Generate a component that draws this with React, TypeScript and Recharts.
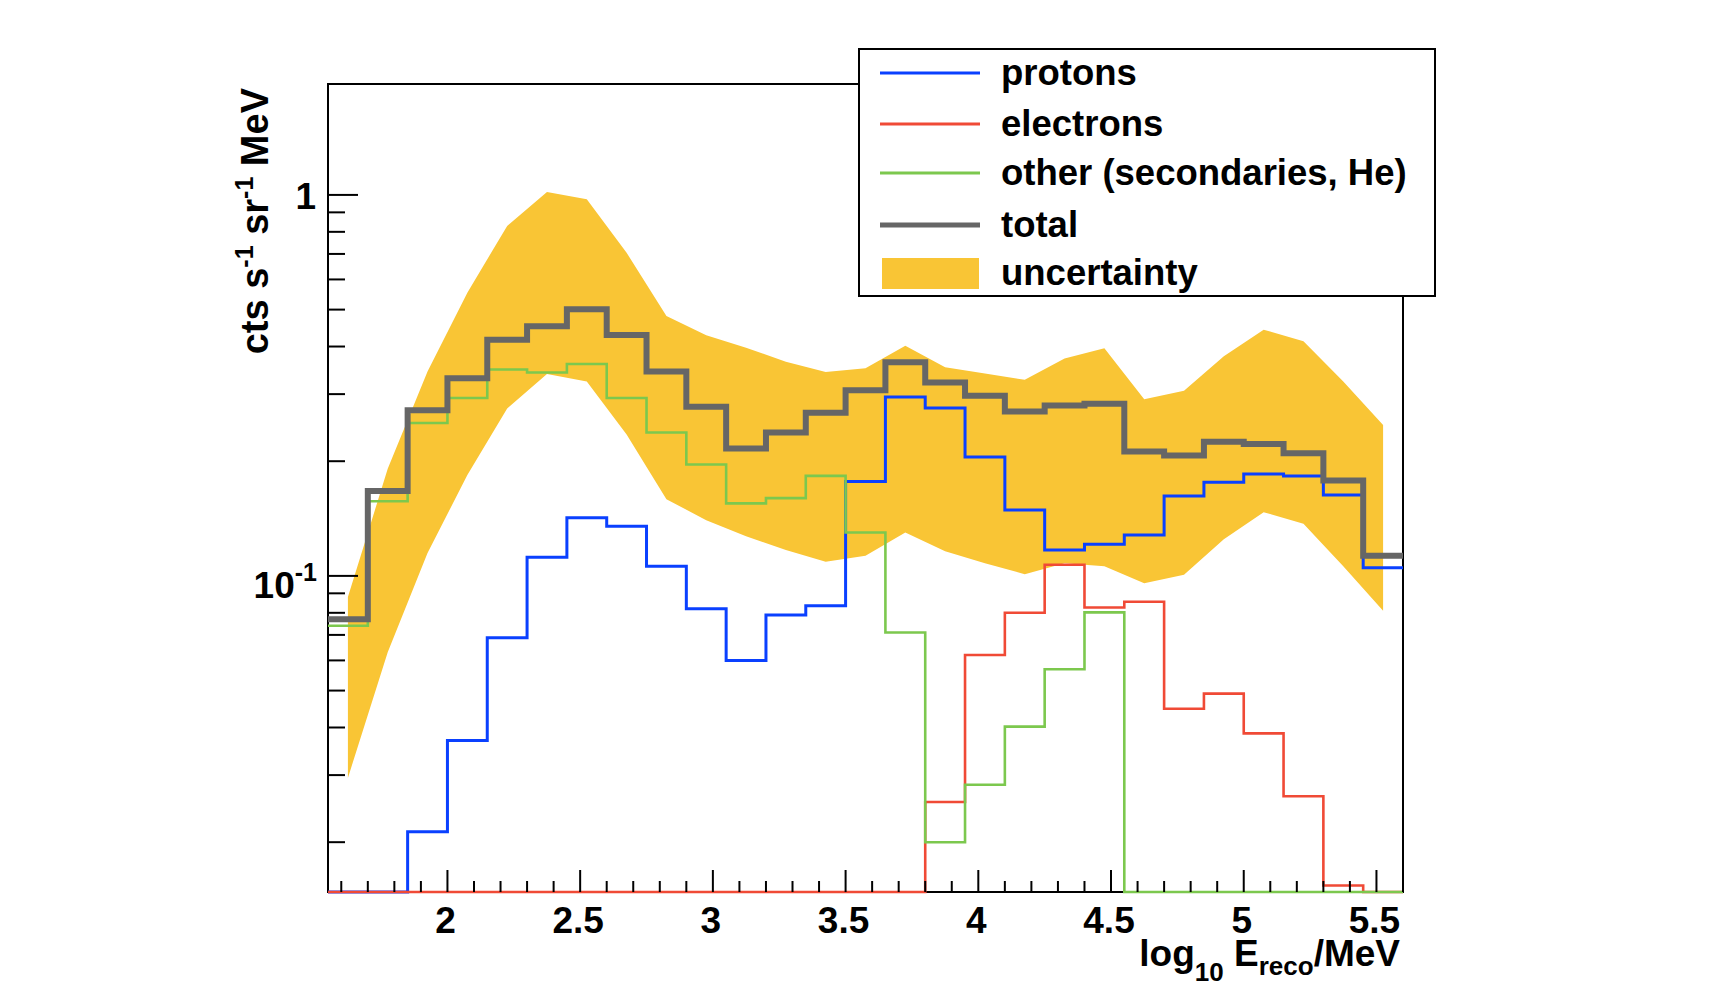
import * as React from 'react';
import { Area, ComposedChart, Legend, Line, ReferenceArea, XAxis, YAxis } from 'recharts';

// bin edges of the reconstructed-energy histogram (log10 E / MeV)
const BIN_EDGES = [1.55, 1.7, 1.85, 2.0, 2.15, 2.3, 2.45, 2.6, 2.75, 2.9, 3.05, 3.2, 3.35, 3.5, 3.65,
    3.8, 3.95, 4.1, 4.25, 4.4, 4.55, 4.7, 4.85, 5.0, 5.15, 5.3, 5.45, 5.6];
const BIN_CENTERS = [1.625, 1.775, 1.925, 2.075, 2.225, 2.375, 2.525, 2.675, 2.825, 2.975, 3.125, 3.275,
    3.425, 3.575, 3.725, 3.875, 4.025, 4.175, 4.325, 4.475, 4.625, 4.775, 4.925, 5.075, 5.225, 5.375, 5.525];

// rates in cts s^-1 sr^-1 MeV, one value per bin (0 = empty bin)
const protons = [0, 0, 0.0213, 0.037, 0.0688, 0.112, 0.142, 0.135, 0.106, 0.082, 0.06, 0.079, 0.0835, 0.177,
    0.295, 0.276, 0.205, 0.149, 0.117, 0.121, 0.128, 0.162, 0.176, 0.185, 0.183, 0.163, 0.105];
const electrons = [0, 0, 0, 0, 0, 0, 0, 0, 0, 0, 0, 0, 0, 0, 0, 0.0255, 0.062, 0.08, 0.107, 0.0826, 0.0855,
    0.0448, 0.0491, 0.0386, 0.0264, 0.0154, 0];
const other = [0.074, 0.157, 0.252, 0.293, 0.348, 0.342, 0.36, 0.293, 0.238, 0.196, 0.155, 0.16, 0.183, 0.13,
    0.071, 0.02, 0.0283, 0.0402, 0.0569, 0.0802, 0, 0, 0, 0, 0, 0, 0];
const total = [0.077, 0.167, 0.272, 0.33, 0.417, 0.452, 0.501, 0.429, 0.344, 0.278, 0.216, 0.238, 0.268, 0.307,
    0.364, 0.322, 0.297, 0.27, 0.28, 0.283, 0.212, 0.207, 0.225, 0.222, 0.21, 0.178, 0.113];
const bandLow = [0.0295, 0.063, 0.1148, 0.184, 0.275, 0.339, 0.324, 0.235, 0.159, 0.14, 0.127, 0.117, 0.109,
    0.113, 0.13, 0.116, 0.108, 0.101, 0.108, 0.106, 0.0957, 0.1007, 0.1247, 0.147, 0.137, 0.106, 0.081];
const bandHigh = [0.088, 0.191, 0.344, 0.554, 0.829, 1.018, 0.974, 0.705, 0.481, 0.428, 0.397, 0.365, 0.343,
    0.351, 0.402, 0.353, 0.34, 0.327, 0.372, 0.396, 0.291, 0.306, 0.377, 0.443, 0.413, 0.324, 0.249];

const X_TICKS = [1.6, 1.7, 1.8, 1.9, 2, 2.1, 2.2, 2.3, 2.4, 2.5, 2.6, 2.7, 2.8, 2.9, 3, 3.1, 3.2, 3.3, 3.4,
    3.5, 3.6, 3.7, 3.8, 3.9, 4, 4.1, 4.2, 4.3, 4.4, 4.5, 4.6, 4.7, 4.8, 4.9, 5, 5.1, 5.2, 5.3, 5.4, 5.5, 5.6];
const X_LABELS = ['2', '2.5', '3', '3.5', '4', '4.5', '5', '5.5'];
const Y_TICKS = [0.02, 0.03, 0.04, 0.05, 0.06, 0.07, 0.08, 0.09, 0.1, 0.2, 0.3, 0.4, 0.5, 0.6, 0.7, 0.8, 0.9, 1];

const X_MIN = 1.55;
const X_MAX = 5.6;
const Y_MIN = 0.0148;
const Y_MAX = 1.955;

const PLOT_LEFT = 328;
const PLOT_TOP = 84;
const PLOT_RIGHT = 1403;
const PLOT_BOTTOM = 892;

const FONT = "'Liberation Sans', Arial, Helvetica, sans-serif";
const BAND = '#F9C535';

const SERIES = [
    {name: 'protons', color: '#0A40FF', width: 3, values: protons},
    {name: 'electrons', color: '#F04A36', width: 2.6, values: electrons},
    {name: 'other (secondaries, He)', color: '#7CC84E', width: 2.6, values: other},
    {name: 'total', color: '#666666', width: 6, values: total},
];

// empty bins are drawn on the lower edge like ROOT does
const stepData = (values: number[]) =>
    BIN_EDGES.map((x, i) => ({x, y: Math.max(values[Math.min(i, values.length - 1)], Y_MIN)}));

const bandData = BIN_CENTERS.map((x, i) => ({x, range: [bandLow[i], bandHigh[i]]}));

const XTick = (props: any) => {
    const {x, y, payload} = props;
    const label = String(payload.value);
    const major = X_LABELS.indexOf(label) >= 0;
    return (
        <g>
            <line x1={x} x2={x} y1={y} y2={y - (major ? 22 : 11)} stroke="#000" strokeWidth={2}/>
            {major &&
            <text x={x - 2} y={y + 41} textAnchor="middle" fontFamily={FONT} fontWeight={700} fontSize={37}
                  fill="#000">{label}</text>}
        </g>
    );
};

const YTick = (props: any) => {
    const {x, y, payload} = props;
    const v = payload.value;
    const major = v === 1 || v === 0.1;
    return (
        <g>
            <line x1={x} x2={x + (major ? 30 : 17)} y1={y} y2={y} stroke="#000" strokeWidth={2}/>
            {v === 1 &&
            <text x={x - 12} y={y + 14} textAnchor="end" fontFamily={FONT} fontWeight={700} fontSize={37}
                  fill="#000">1</text>}
            {v === 0.1 &&
            <text x={x - 11} y={y + 22} textAnchor="end" fontFamily={FONT} fontWeight={700} fontSize={37}
                  fill="#000">10<tspan dy={-17} fontSize={25}>-1</tspan></text>}
        </g>
    );
};

const XTitle = () => (
    <text x={PLOT_RIGHT - 3} y={PLOT_BOTTOM + 74} textAnchor="end" fontFamily={FONT} fontWeight={700}
          fontSize={37} fill="#000">
        log<tspan dy={15} fontSize={26}>10</tspan><tspan dy={-15}> E</tspan>
        <tspan dy={9} fontSize={26}>reco</tspan><tspan dy={-9}>/MeV</tspan>
    </text>
);

const YTitle = () => (
    <text transform={`translate(${PLOT_LEFT - 60},${PLOT_TOP + 4}) rotate(-90)`} textAnchor="end"
          fontFamily={FONT} fontWeight={700} fontSize={38} fill="#000">
        cts s<tspan dy={-15} fontSize={25}>-1</tspan><tspan dy={15}> sr</tspan>
        <tspan dy={-15} fontSize={25}>-1</tspan><tspan dy={15}> MeV</tspan>
    </text>
);

const LegendBox = () => {
    const rows = [25, 76, 125, 177, 225];
    return (
        <svg width={578} height={249} style={{display: 'block'}}>
            <rect x={1} y={1} width={576} height={247} fill="#fff" stroke="#000" strokeWidth={2}/>
            {SERIES.map((s, i) => (
                <g key={s.name}>
                    <line x1={22} x2={122} y1={rows[i]} y2={rows[i]} stroke={s.color}
                          strokeWidth={s.width === 6 ? 5 : 3}/>
                    <text x={143} y={rows[i] + 12} fontFamily={FONT} fontWeight={700} fontSize={36.5}
                          fill="#000">{s.name}</text>
                </g>
            ))}
            <rect x={24} y={rows[4] - 15} width={97} height={31} fill={BAND}/>
            <text x={143} y={rows[4] + 12} fontFamily={FONT} fontWeight={700} fontSize={36.5}
                  fill="#000">uncertainty</text>
        </svg>
    );
};

export default class App extends React.PureComponent {

    render() {
        return (
            <div style={{position: 'absolute', left: 0, top: 0, width: 1736, height: 985, background: '#fff'}}>
                <ComposedChart
                    width={1736}
                    height={985}
                    margin={{top: PLOT_TOP, right: 1736 - PLOT_RIGHT, bottom: 985 - PLOT_BOTTOM - 10, left: PLOT_LEFT - 10}}
                >
                    <XAxis
                        type="number"
                        dataKey="x"
                        domain={[X_MIN, X_MAX]}
                        ticks={X_TICKS}
                        interval={0}
                        height={10}
                        tickSize={0}
                        tickMargin={0}
                        tickLine={false}
                        axisLine={false}
                        tick={XTick}
                        label={XTitle}
                    />
                    <YAxis
                        type="number"
                        scale="log"
                        domain={[Y_MIN, Y_MAX]}
                        ticks={Y_TICKS}
                        interval={0}
                        width={10}
                        tickSize={0}
                        tickMargin={0}
                        tickLine={false}
                        axisLine={false}
                        tick={YTick}
                        label={YTitle}
                    />
                    <Area
                        data={bandData}
                        dataKey="range"
                        type="linear"
                        stroke="none"
                        fill={BAND}
                        fillOpacity={1}
                        isAnimationActive={false}
                    />
                    <ReferenceArea x1={X_MIN} x2={X_MAX} y1={Y_MIN} y2={Y_MAX} fill="none" fillOpacity={0}
                                   stroke="#000" strokeWidth={2} strokeOpacity={1}/>
                    {SERIES.map(s => (
                        <Line
                            key={s.name}
                            name={s.name}
                            data={stepData(s.values)}
                            dataKey="y"
                            type="stepAfter"
                            stroke={s.color}
                            strokeWidth={s.width}
                            dot={false}
                            activeDot={false}
                            isAnimationActive={false}
                        />
                    ))}
                    <Legend
                        layout="horizontal"
                        verticalAlign="middle"
                        align="center"
                        wrapperStyle={{position: 'absolute', left: 858, top: 48, width: 578, height: 249, margin: 0}}
                        content={() => <LegendBox/>}
                    />
                </ComposedChart>
            </div>
        );
    }
}
